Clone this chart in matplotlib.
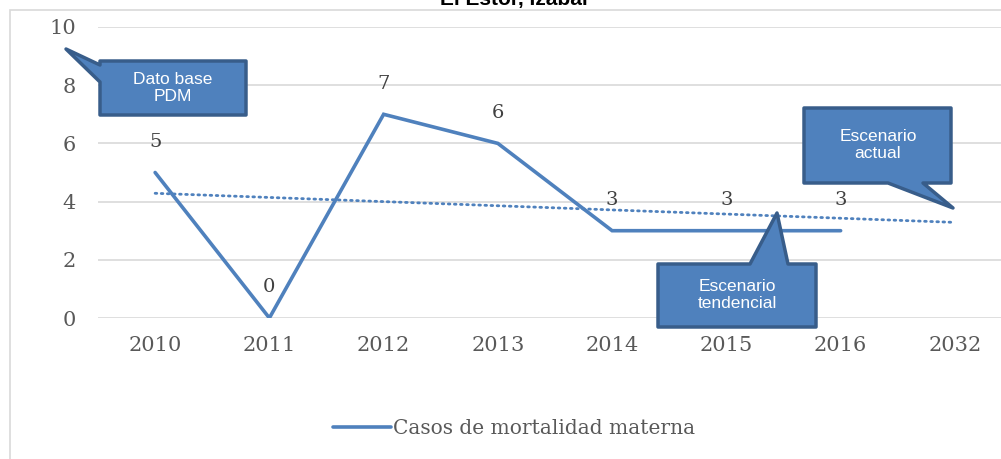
import matplotlib.pyplot as plt
import numpy as np
from matplotlib.patches import Polygon, Rectangle

years = ["2010", "2011", "2012", "2013", "2014", "2015", "2016", "2032"]
casos = [5, 0, 7, 6, 3, 3, 3]
series_name = "Casos de mortalidad materna"
title = "El Estor, Izabal"

W, H = 1001, 459
blue = "#4F81BD"
dark = "#385D8A"
grey = "#595959"
serif = ["DejaVu Serif"]


def px(x, y):
    # image pixel (from top-left) -> figure fraction
    return (x / W, 1 - y / H)


fig = plt.figure(figsize=(W / 100, H / 100), dpi=100)
fig.patches.append(Rectangle(px(10, 470), 1.2, (470 - 10.5) / H, transform=fig.transFigure,
                             facecolor="none", edgecolor="#D9D9D9", linewidth=1.2))
fig.text(514 / W, 1 - 5 / H, title, ha="center", va="baseline", fontsize=15,
         fontweight="bold", family="Liberation Sans")

ax = fig.add_axes([98 / W, (H - 318) / H, (1012 - 98) / W, (318 - 27) / H])
x = np.arange(len(casos))
ax.plot(x, casos, color=blue, linewidth=2.6, solid_capstyle="round",
        solid_joinstyle="miter", label=series_name)

# linear trendline over the observed years, extended to 2032
slope, inter = np.polyfit(x, casos, 1)
xt = np.array([0, len(years) - 1])
ax.plot(xt, inter + slope * xt, color=blue, linewidth=2, linestyle=(0, (0.6, 1.6)),
        dash_capstyle="round")

for xi, v in zip(x, casos):
    ax.annotate(str(v), (xi, v), xytext=(0, 22), textcoords="offset points",
                ha="center", va="center", fontsize=14, color="#404040", family=serif)

ax.set_xlim(-0.5, len(years) - 0.5)
ax.set_ylim(0, 10)
ax.set_yticks(range(0, 11, 2))
ax.set_xticks(range(len(years)))
ax.set_xticklabels(years)
ax.grid(axis="y", color="#D9D9D9", linewidth=1.2)
ax.set_axisbelow(True)
for s in ax.spines.values():
    s.set_visible(False)
ax.tick_params(length=0, labelsize=15, labelcolor=grey)
ax.tick_params(axis="y", pad=16)
ax.tick_params(axis="x", pad=13)
for lab in ax.get_xticklabels() + ax.get_yticklabels():
    lab.set_family(serif)

leg = ax.legend(loc="center", bbox_to_anchor=(px(514, 429)), bbox_transform=fig.transFigure,
                frameon=False, handlelength=2.9, handletextpad=0.1,
                prop={"family": serif, "size": 14.5})
for t in leg.get_texts():
    t.set_color(grey)

callouts = [
    ("Dato base\nPDM", [(100, 61), (246, 61), (246, 115), (100, 115), (100, 82), (66, 49), (100, 65)], (173, 88)),
    ("Escenario\nactual", [(804, 108), (951, 108), (951, 183), (923, 183), (953, 208), (888, 183), (804, 183)], (878, 145)),
    ("Escenario\ntendencial", [(658, 264), (750, 264), (777, 213), (788, 264), (816, 264), (816, 327), (658, 327)], (737, 295)),
]
for text, pts, centre in callouts:
    fig.patches.append(Polygon([px(*p) for p in pts], closed=True, transform=fig.transFigure,
                               facecolor=blue, edgecolor=dark, linewidth=2.5, joinstyle="round"))
    fig.text(*px(*centre), text, ha="center", va="center", color="white", fontsize=12.5,
             family="Liberation Sans", linespacing=1.15)

fig.savefig("out.png", dpi=100)
